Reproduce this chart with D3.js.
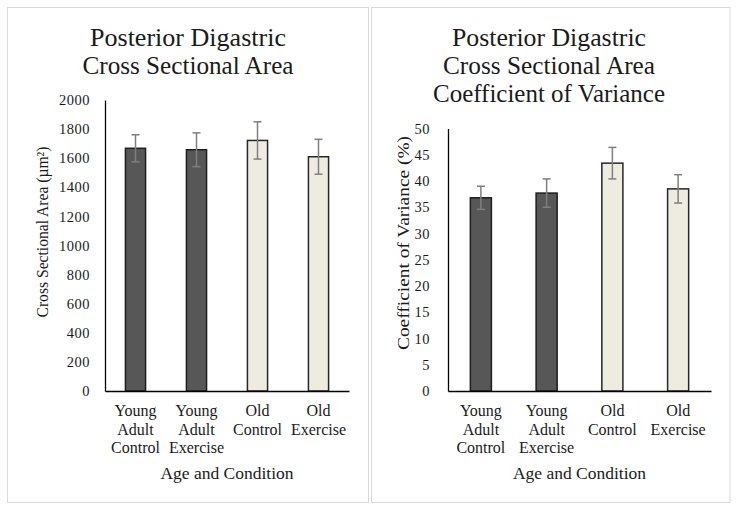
<!DOCTYPE html>
<html>
<head>
<meta charset="utf-8">
<script src="https://cdn.jsdelivr.net/npm/d3@7"></script>
<style>
  body { margin: 0; background: #fff; }
  svg { display: block; font-family: "Liberation Serif", "Times New Roman", serif; }
</style>
</head>
<body>
<svg id="chart" width="739" height="512"></svg>
<script>
// data
const categories = ["Young Adult Control", "Young Adult Exercise", "Old Control", "Old Exercise"];
const categoryLines = [["Young", "Adult", "Control"], ["Young", "Adult", "Exercise"], ["Old", "Control"], ["Old", "Exercise"]];
const groupOf = ["young", "young", "old", "old"];

const areaMeans = [1668, 1658, 1722, 1610];
const areaErrors = [93, 116, 128, 120];
const areaTicks = [0, 200, 400, 600, 800, 1000, 1200, 1400, 1600, 1800, 2000];

const covMeans = [36.8, 37.7, 43.4, 38.5];
const covErrors = [2.2, 2.7, 3.0, 2.7];
const covTicks = [0, 5, 10, 15, 20, 25, 30, 35, 40, 45, 50];

const fills = { young: "#575757", old: "#eeece1" };
const strokes = { young: "#1e1e1e", old: "#262626" };

const svg = d3.select("#chart");

// stretch/squeeze a text element to a measured width (the original font is wider than ours)
function fit(sel, w) {
  if (w) sel.attr("textLength", w).attr("lengthAdjust", "spacingAndGlyphs");
  return sel;
}

function drawPanel(cfg) {
  const g = svg.append("g");

  g.append("rect")
    .attr("x", cfg.box[0]).attr("y", cfg.box[1])
    .attr("width", cfg.box[2]).attr("height", cfg.box[3])
    .attr("fill", "#fff").attr("stroke", "#d9d9d9").attr("stroke-width", 1);

  // title
  cfg.title.forEach((line, i) => {
    const t = g.append("text")
      .attr("x", cfg.titleX).attr("y", cfg.titleY + i * 28.3)
      .attr("text-anchor", "middle")
      .attr("font-size", 25).attr("fill", "#1a1a1a")
      .text(line);
    fit(t, cfg.titleWidths[i]);
  });

  const x = d3.scaleBand()
    .domain(categories)
    .range([cfg.x0, cfg.x1])
    .paddingInner(cfg.pad)
    .paddingOuter(cfg.pad / 2);

  const y = d3.scaleLinear()
    .domain([cfg.ticks[0], cfg.ticks[cfg.ticks.length - 1]])
    .range([cfg.yBase, cfg.yTop]);

  // y axis: line only, labels to the left
  const yAxis = g.append("g")
    .attr("transform", `translate(${cfg.x0},0)`)
    .call(d3.axisLeft(y).tickValues(cfg.ticks).tickFormat(d3.format("d")).tickSize(0).tickPadding(cfg.labelGap));
  yAxis.select(".domain").attr("stroke", "#000").attr("stroke-width", 1.3);
  yAxis.selectAll("text")
    .attr("font-family", "Liberation Serif")
    .attr("font-size", 14.5).attr("fill", "#1a1a1a")
    .attr("letter-spacing", 0.5);

  // bars
  g.selectAll("rect.bar")
    .data(cfg.means)
    .join("rect")
    .attr("class", "bar")
    .attr("x", (d, i) => x(categories[i]))
    .attr("y", d => y(d))
    .attr("width", x.bandwidth())
    .attr("height", d => y(0) - y(d))
    .attr("fill", (d, i) => fills[groupOf[i]])
    .attr("stroke", (d, i) => strokes[groupOf[i]])
    .attr("stroke-width", 1.5);

  // error bars
  const eb = g.selectAll("g.err")
    .data(cfg.means)
    .join("g")
    .attr("class", "err")
    .attr("stroke", "#7f7f7f")
    .attr("stroke-width", 1.5);
  const cx = (i) => x(categories[i]) + x.bandwidth() / 2;
  eb.append("line")
    .attr("x1", (d, i) => cx(i)).attr("x2", (d, i) => cx(i))
    .attr("y1", (d, i) => y(d + cfg.errors[i])).attr("y2", (d, i) => y(d - cfg.errors[i]));
  eb.append("line")
    .attr("x1", (d, i) => cx(i) - 4).attr("x2", (d, i) => cx(i) + 4)
    .attr("y1", (d, i) => y(d + cfg.errors[i])).attr("y2", (d, i) => y(d + cfg.errors[i]));
  eb.append("line")
    .attr("x1", (d, i) => cx(i) - 4).attr("x2", (d, i) => cx(i) + 4)
    .attr("y1", (d, i) => y(d - cfg.errors[i])).attr("y2", (d, i) => y(d - cfg.errors[i]));

  // x axis
  const xAxis = g.append("g")
    .attr("transform", `translate(0,${cfg.yBase})`)
    .call(d3.axisBottom(x).tickSize(0).tickFormat(""));
  xAxis.select(".domain").attr("stroke", "#000").attr("stroke-width", 1.3);

  // multi-line category labels
  categories.forEach((c, i) => {
    const t = g.append("text")
      .attr("text-anchor", "middle")
      .attr("font-size", 16).attr("fill", "#1a1a1a");
    categoryLines[i].forEach((line, k) => {
      t.append("tspan")
        .attr("x", x(c) + x.bandwidth() / 2)
        .attr("y", cfg.yBase + 25 + k * 18.5)
        .text(line);
    });
  });

  // axis titles
  g.append("text")
    .attr("x", (cfg.x0 + cfg.x1) / 2).attr("y", 478.5)
    .attr("text-anchor", "middle")
    .attr("font-size", 17.5).attr("fill", "#1a1a1a")
    .text("Age and Condition");

  const yt = g.append("text")
    .attr("transform", `translate(${cfg.yTitleX},${cfg.yTitleY}) rotate(-90)`)
    .attr("text-anchor", "middle")
    .attr("dy", "0.35em")
    .attr("font-size", cfg.yTitleSize).attr("fill", "#1a1a1a")
    .text(cfg.yTitle);
  fit(yt, cfg.yTitleLen);
}

drawPanel({
  box: [7.5, 7.5, 361, 495],
  title: ["Posterior Digastric", "Cross Sectional Area"],
  titleWidths: [196, 211],
  titleX: 188, titleY: 45.5,
  x0: 105, x1: 349, pad: 0.67,
  yTop: 100, yBase: 391,
  ticks: areaTicks, labelGap: 15,
  means: areaMeans, errors: areaErrors,
  yTitle: "Cross Sectional Area (µm²)", yTitleX: 42, yTitleY: 232, yTitleLen: 171, yTitleSize: 16
});

drawPanel({
  box: [371.5, 7.5, 358.5, 495],
  title: ["Posterior Digastric", "Cross Sectional Area", "Coefficient of Variance"],
  titleWidths: [194, 212, 232],
  titleX: 549, titleY: 45.5,
  x0: 448, x1: 711, pad: 0.68,
  yTop: 128.5, yBase: 391,
  ticks: covTicks, labelGap: 18,
  means: covMeans, errors: covErrors,
  yTitle: "Coefficient of Variance (%)", yTitleX: 403, yTitleY: 243, yTitleLen: 214, yTitleSize: 17
});
</script>
</body>
</html>
